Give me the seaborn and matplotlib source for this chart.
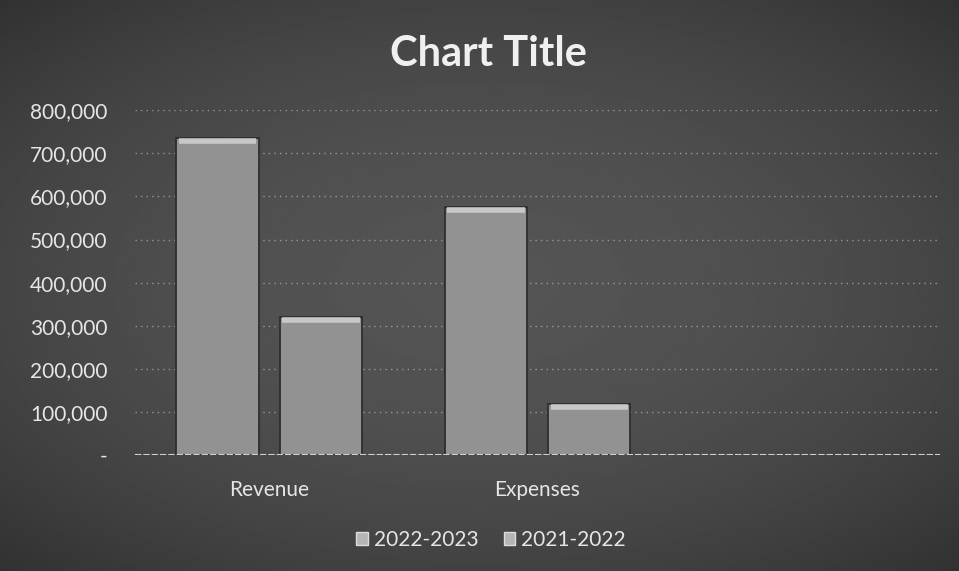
import numpy as np
import pandas as pd
import matplotlib
matplotlib.use("Agg")
import matplotlib.pyplot as plt
import seaborn as sns
from matplotlib.ticker import FuncFormatter
from matplotlib.patches import Patch

categories = ["Revenue", "Expenses", ""]
years = ["2022-2023", "2021-2022"]
values_2223 = [735000, 575000, np.nan]
values_2122 = [320000, 118000, np.nan]
yticks = [0, 100000, 200000, 300000, 400000, 500000, 600000, 700000, 800000]

df = pd.DataFrame({
    "category": categories * 2,
    "year": [years[0]] * 3 + [years[1]] * 3,
    "value": values_2223 + values_2122,
})

sns.set_theme(style="dark")
plt.rcParams['font.family'] = ['Lato', 'DejaVu Sans']

bg = "#464646"
txt = "#e6e6e6"
bar_col = "#929292"

fig = plt.figure(figsize=(9.59, 5.71), dpi=100)
fig.patch.set_facecolor(bg)

# darker edges, lighter middle, like the photo
back = fig.add_axes([0, 0, 1, 1], zorder=-10)
yy, xx = np.mgrid[-1:1:200j, -1:1:300j]
shade = 0.33 - 0.09 * (xx ** 2 * 0.7 + yy ** 2 * 0.8)
back.imshow(shade, cmap="gray", vmin=0, vmax=1, aspect="auto", extent=[0, 1, 0, 1])
back.axis("off")

ax = fig.add_axes([0.141, 0.203, 0.839, 0.604])
ax.set_facecolor("none")

sns.barplot(data=df, x="category", y="value", hue="year", hue_order=years,
            palette=[bar_col, bar_col], width=0.77, gap=0.2, ax=ax,
            edgecolor="#2e2e2e", linewidth=1.3, saturation=1, legend=False)

# light bevel on top of each bar
for p in ax.patches:
    h = p.get_height()
    if np.isnan(h) or h == 0:
        continue
    ax.plot([p.get_x() + 0.01, p.get_x() + p.get_width() - 0.01], [h - 6000, h - 6000],
            color="#c8c8c8", lw=4, solid_capstyle="butt")

ax.set_ylim(0, 800000)
ax.set_xlim(-0.5, 2.5)
ax.set_yticks(yticks)
ax.yaxis.set_major_formatter(FuncFormatter(lambda v, p: "-" if v == 0 else f"{int(v):,}"))
ax.grid(axis="y", color="#aaaaaa", linestyle=(0, (1, 3)), linewidth=1, alpha=0.8)
ax.axhline(0, color="#d0d0d0", linestyle=(0, (3, 1)), linewidth=1.5)
for s in ax.spines.values():
    s.set_visible(False)
ax.tick_params(axis="y", colors=txt, labelsize=15, pad=20, length=0)
ax.tick_params(axis="x", colors=txt, labelsize=15, pad=18, length=0)
ax.set_xlabel("")
ax.set_ylabel("")

fig.text(0.509, 0.905, "Chart Title", ha="center", va="center", color="#f0f0f0",
         fontsize=30, fontweight="bold")

handles = [Patch(facecolor="#b5b5b5", edgecolor="#dddddd") for _ in years]
fig.legend(handles, years, loc="center", bbox_to_anchor=(0.512, 0.055), ncol=2,
           frameon=False, fontsize=15, labelcolor=txt, handlelength=0.55,
           handleheight=0.55, handletextpad=0.3, columnspacing=1.2)

fig.savefig("out.png", dpi=100, facecolor=fig.get_facecolor())
